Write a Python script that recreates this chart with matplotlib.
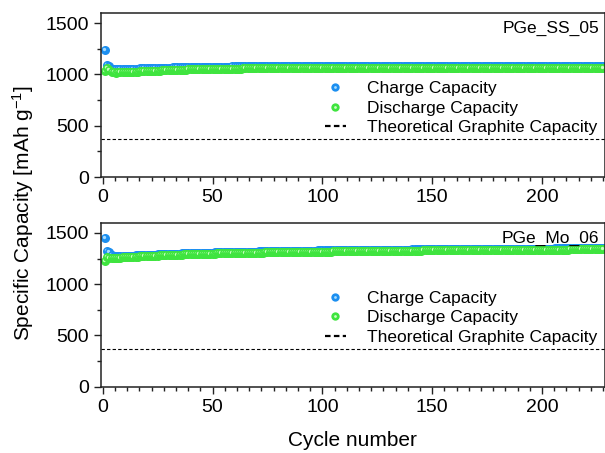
import numpy as np
import matplotlib.pyplot as plt
from matplotlib.lines import Line2D
from matplotlib.legend_handler import HandlerTuple
from matplotlib.ticker import MultipleLocator, AutoMinorLocator
from matplotlib.transforms import offset_copy

plt.rcParams['font.family'] = ['Liberation Sans', 'DejaVu Sans']
plt.rcParams['mathtext.fontset'] = 'custom'
plt.rcParams['mathtext.rm'] = 'Liberation Sans'
plt.rcParams['mathtext.it'] = 'Liberation Sans:italic'

# ---- data ----
cycles = np.arange(1, 229)

ss_charge = [
    1240, 1090, 1085, 1058, 1052, 1050, 1050, 1051, 1052, 1053,
    1054, 1055, 1056, 1056, 1057, 1058, 1059, 1060, 1060, 1061,
    1062, 1063, 1063, 1064, 1065, 1065, 1066, 1067, 1067, 1068,
    1068, 1069, 1070, 1070, 1071, 1071, 1072, 1072, 1073, 1073,
    1073, 1074, 1074, 1075, 1075, 1075, 1076, 1076, 1076, 1077,
    1077, 1077, 1077, 1078, 1078, 1078, 1078, 1078, 1079, 1079,
    1079, 1079, 1079, 1079, 1080, 1080, 1080, 1080, 1080, 1080,
    1080, 1080, 1080, 1081, 1080, 1081, 1081, 1080, 1081, 1081,
    1081, 1081, 1080, 1081, 1081, 1081, 1081, 1081, 1082, 1081,
    1081, 1082, 1081, 1082, 1081, 1082, 1082, 1081, 1082, 1082,
    1082, 1081, 1082, 1082, 1082, 1081, 1082, 1082, 1082, 1082,
    1081, 1082, 1082, 1082, 1082, 1082, 1081, 1082, 1082, 1082,
    1082, 1082, 1082, 1081, 1082, 1082, 1082, 1082, 1082, 1082,
    1081, 1082, 1082, 1082, 1082, 1082, 1082, 1081, 1082, 1082,
    1082, 1082, 1082, 1082, 1082, 1081, 1082, 1082, 1082, 1082,
    1082, 1082, 1081, 1082, 1082, 1082, 1082, 1082, 1082, 1082,
    1082, 1081, 1082, 1082, 1082, 1082, 1082, 1082, 1082, 1081,
    1082, 1082, 1082, 1082, 1082, 1082, 1082, 1082, 1081, 1082,
    1082, 1082, 1082, 1082, 1082, 1082, 1082, 1082, 1082, 1081,
    1082, 1082, 1082, 1082, 1082, 1082, 1082, 1082, 1082, 1082,
    1081, 1082, 1082, 1082, 1082, 1082, 1082, 1082, 1082, 1082,
    1082, 1082, 1081, 1082, 1082, 1082, 1082, 1082, 1082, 1082,
    1082, 1082, 1082, 1081, 1082, 1082, 1082, 1082,
]

ss_discharge = [
    1030, 1060, 1040, 1025, 1020, 1019, 1020, 1021, 1022, 1023,
    1024, 1025, 1026, 1027, 1028, 1029, 1030, 1031, 1032, 1033,
    1034, 1035, 1036, 1037, 1038, 1039, 1040, 1041, 1041, 1042,
    1043, 1044, 1045, 1045, 1046, 1047, 1047, 1048, 1049, 1049,
    1050, 1050, 1051, 1051, 1052, 1052, 1053, 1053, 1054, 1054,
    1055, 1055, 1055, 1056, 1056, 1056, 1057, 1057, 1057, 1058,
    1058, 1058, 1058, 1059, 1059, 1059, 1059, 1060, 1060, 1060,
    1060, 1060, 1061, 1061, 1061, 1061, 1061, 1062, 1062, 1062,
    1062, 1062, 1062, 1062, 1063, 1063, 1063, 1063, 1063, 1063,
    1063, 1063, 1063, 1064, 1063, 1064, 1064, 1063, 1064, 1064,
    1064, 1064, 1063, 1064, 1064, 1064, 1064, 1064, 1063, 1064,
    1064, 1064, 1064, 1064, 1064, 1063, 1064, 1064, 1064, 1064,
    1064, 1064, 1064, 1064, 1063, 1064, 1064, 1064, 1064, 1064,
    1064, 1064, 1063, 1064, 1064, 1064, 1064, 1064, 1064, 1063,
    1064, 1064, 1064, 1064, 1064, 1064, 1063, 1064, 1064, 1064,
    1064, 1064, 1064, 1063, 1064, 1064, 1064, 1064, 1064, 1064,
    1064, 1064, 1064, 1064, 1063, 1064, 1064, 1064, 1064, 1064,
    1063, 1064, 1064, 1064, 1064, 1064, 1064, 1064, 1064, 1063,
    1064, 1064, 1064, 1064, 1064, 1064, 1064, 1063, 1064, 1064,
    1064, 1064, 1064, 1064, 1063, 1064, 1064, 1064, 1064, 1064,
    1064, 1063, 1064, 1064, 1064, 1064, 1064, 1064, 1064, 1064,
    1063, 1064, 1064, 1064, 1064, 1064, 1064, 1064, 1063, 1064,
    1064, 1064, 1064, 1064, 1064, 1063, 1064, 1064,
]

mo_charge = [
    1450, 1320, 1312, 1285, 1276, 1273, 1272, 1273, 1274, 1275,
    1276, 1277, 1278, 1279, 1280, 1281, 1282, 1283, 1284, 1285,
    1286, 1287, 1288, 1289, 1290, 1291, 1292, 1293, 1294, 1295,
    1296, 1296, 1297, 1298, 1299, 1300, 1300, 1301, 1302, 1303,
    1303, 1304, 1305, 1305, 1306, 1307, 1307, 1308, 1309, 1309,
    1310, 1310, 1311, 1311, 1312, 1313, 1313, 1314, 1314, 1315,
    1315, 1316, 1316, 1317, 1317, 1317, 1318, 1318, 1319, 1319,
    1320, 1320, 1320, 1321, 1321, 1322, 1322, 1322, 1323, 1323,
    1323, 1324, 1324, 1324, 1325, 1325, 1325, 1326, 1326, 1326,
    1327, 1327, 1327, 1328, 1328, 1328, 1328, 1329, 1329, 1329,
    1330, 1330, 1330, 1330, 1331, 1331, 1331, 1331, 1332, 1332,
    1332, 1332, 1333, 1333, 1333, 1333, 1334, 1334, 1334, 1334,
    1334, 1335, 1335, 1335, 1335, 1336, 1336, 1336, 1336, 1336,
    1337, 1337, 1337, 1337, 1337, 1338, 1338, 1338, 1338, 1338,
    1339, 1339, 1339, 1339, 1339, 1340, 1340, 1340, 1340, 1340,
    1340, 1341, 1341, 1341, 1341, 1341, 1341, 1342, 1342, 1342,
    1342, 1342, 1342, 1343, 1343, 1343, 1343, 1343, 1343, 1344,
    1344, 1344, 1344, 1344, 1344, 1344, 1345, 1345, 1345, 1345,
    1345, 1345, 1345, 1346, 1346, 1346, 1346, 1346, 1346, 1346,
    1347, 1347, 1347, 1347, 1347, 1347, 1347, 1348, 1348, 1348,
    1348, 1348, 1348, 1348, 1348, 1349, 1349, 1349, 1349, 1349,
    1349, 1349, 1350, 1350, 1350, 1350, 1350, 1350, 1350, 1350,
    1351, 1351, 1351, 1351, 1351, 1351, 1351, 1351,
]

mo_discharge = [
    1230, 1262, 1255, 1252, 1253, 1255, 1257, 1259, 1261, 1263,
    1265, 1266, 1267, 1268, 1269, 1270, 1271, 1272, 1273, 1274,
    1275, 1276, 1277, 1278, 1279, 1280, 1281, 1282, 1283, 1284,
    1285, 1286, 1287, 1288, 1289, 1289, 1290, 1291, 1292, 1292,
    1293, 1294, 1294, 1295, 1296, 1296, 1297, 1298, 1298, 1299,
    1299, 1300, 1300, 1301, 1301, 1302, 1302, 1303, 1303, 1304,
    1304, 1305, 1305, 1306, 1306, 1306, 1307, 1307, 1308, 1308,
    1309, 1309, 1309, 1310, 1310, 1311, 1311, 1311, 1312, 1312,
    1312, 1313, 1313, 1313, 1314, 1314, 1314, 1315, 1315, 1315,
    1316, 1316, 1316, 1317, 1317, 1317, 1317, 1318, 1318, 1318,
    1319, 1319, 1319, 1319, 1320, 1320, 1320, 1320, 1321, 1321,
    1321, 1321, 1322, 1322, 1322, 1322, 1323, 1323, 1323, 1323,
    1323, 1324, 1324, 1324, 1324, 1325, 1325, 1325, 1325, 1325,
    1326, 1326, 1326, 1326, 1326, 1327, 1327, 1327, 1327, 1327,
    1328, 1328, 1328, 1328, 1328, 1329, 1329, 1329, 1329, 1329,
    1329, 1330, 1330, 1330, 1330, 1330, 1330, 1331, 1331, 1331,
    1331, 1331, 1331, 1332, 1332, 1332, 1332, 1332, 1332, 1333,
    1333, 1333, 1333, 1333, 1333, 1333, 1334, 1334, 1334, 1334,
    1334, 1334, 1334, 1335, 1335, 1335, 1335, 1335, 1335, 1335,
    1336, 1336, 1336, 1336, 1336, 1336, 1336, 1337, 1337, 1337,
    1337, 1337, 1337, 1337, 1337, 1338, 1338, 1338, 1338, 1338,
    1338, 1338, 1339, 1339, 1339, 1339, 1339, 1339, 1339, 1339,
    1340, 1340, 1340, 1340, 1340, 1340, 1340, 1340,
]

theoretical_graphite = 372
panel_names = ['PGe_SS_05', 'PGe_Mo_06']
legend_labels = ['Charge Capacity', 'Discharge Capacity', 'Theoretical Graphite Capacity']

blue, blue_hi = '#1c8ff0', '#a6dcff'
green, green_hi = '#3fe43f', '#c8ffc0'
MS, MS_HI = 6.5, 2.4

fig = plt.figure(figsize=(6.05, 4.53), dpi=100)
ax1 = fig.add_axes([101 / 605, 1 - 177 / 453, 503.5 / 605, 164 / 453])
ax2 = fig.add_axes([101 / 605, 1 - 386.7 / 453, 503.5 / 605, 164 / 453])


def draw_balls(ax, x, y, c, c_hi):
    # shaded "ball" markers, point by point so the overlap looks right
    hi = offset_copy(ax.transData, fig=fig, x=-1.0, y=1.0, units='dots')
    for xi, yi in zip(x, y):
        ax.plot(xi, yi, 'o', ms=MS, color=c, mec='none')
        ax.plot(xi, yi, 'o', ms=MS_HI, color=c_hi, mec='none', transform=hi)


def ball_handle(c, c_hi):
    return (Line2D([], [], ls='none', marker='o', ms=MS - 0.5, color=c, mec='none'),
            Line2D([], [], ls='none', marker='o', ms=MS_HI - 0.4, color=c_hi, mec='none'))


for ax, ch, dis, name in [(ax1, ss_charge, ss_discharge, panel_names[0]),
                          (ax2, mo_charge, mo_discharge, panel_names[1])]:
    draw_balls(ax, cycles, ch, blue, blue_hi)
    draw_balls(ax, cycles, dis, green, green_hi)
    ax.axhline(theoretical_graphite, color='black', lw=0.8, ls=(0, (3, 2)))

    ax.set_xlim(-0.8, 228.5)
    ax.set_ylim(0, 1600)
    ax.xaxis.set_major_locator(MultipleLocator(50))
    ax.xaxis.set_minor_locator(AutoMinorLocator(9))
    ax.yaxis.set_major_locator(MultipleLocator(500))
    ax.yaxis.set_minor_locator(AutoMinorLocator(2))
    ax.tick_params(which='both', direction='out', labelsize=14, width=1, colors='#222222',
                   labelcolor='black')
    ax.tick_params(which='major', length=5)
    ax.tick_params(which='minor', length=3)
    for s in ax.spines.values():
        s.set_linewidth(1.1)
        s.set_color('#222222')

    ax.text(0.99, 0.905, name, transform=ax.transAxes, ha='right', va='center', fontsize=12.5)

    h_line = Line2D([], [], color='black', lw=1.6, ls=(0, (2.5, 1.5)))
    ax.legend([ball_handle(blue, blue_hi), ball_handle(green, green_hi), h_line], legend_labels,
              handler_map={tuple: HandlerTuple(ndivide=1)},
              loc='upper left', bbox_to_anchor=(0.445, 0.585), frameon=False,
              fontsize=12.5, handlelength=1.2, handletextpad=1.2,
              labelspacing=0.25, borderpad=0, borderaxespad=0)

fig.text(0.038, 1 - 213 / 453, 'Specific Capacity [mAh g$^{-1}$]', rotation=90,
         ha='center', va='center', fontsize=15)
fig.text(352 / 605, 1 - 440 / 453, 'Cycle number', ha='center', va='center', fontsize=15)

fig.savefig('out.png', dpi=100)
